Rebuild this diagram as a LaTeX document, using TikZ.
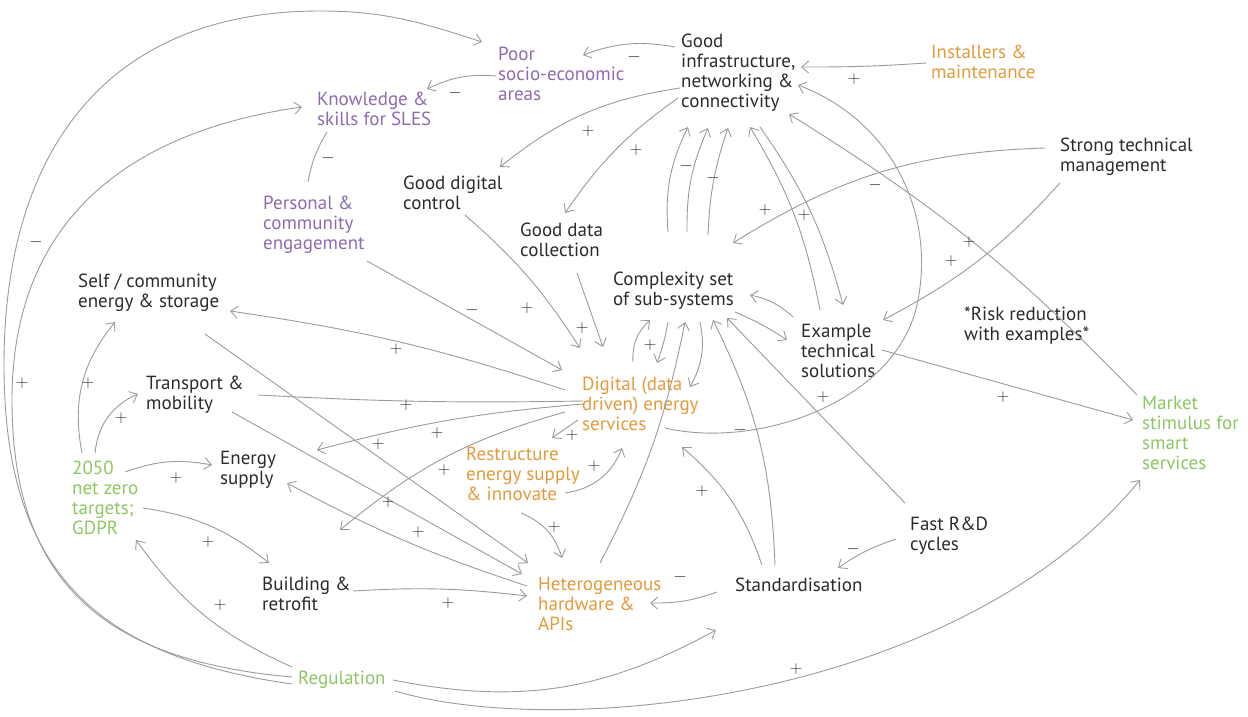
\documentclass[tikz,border=0pt]{standalone}
\usepackage{fontspec}
\setmainfont{PT Sans}
\usetikzlibrary{arrows.meta}
\definecolor{lg}{HTML}{9A9A9F}
\definecolor{tx}{HTML}{2B2B2B}
\definecolor{pu}{HTML}{8E6BB0}
\definecolor{orn}{HTML}{E39A3A}
\definecolor{gr}{HTML}{8DC662}
\begin{document}
\begin{tikzpicture}[x=1pt,y=-1pt,
  txt/.style={font=\fontsize{19}{20}\selectfont, align=left, inner sep=0pt, anchor=north west, text=tx},
  lbl/.style={font=\fontsize{17.28}{18}\selectfont, inner sep=0pt, text height=8.6pt, text depth=0pt, text=tx},
  ar/.style={draw=lg, line width=0.9pt, -{Straight Barb[length=7pt,width=12pt]}},
  ln/.style={draw=lg, line width=0.9pt}]
\useasboundingbox (0,0) rectangle (1248,717);

% nodes
\node[txt,text=pu] (poor) at (498,47) {Poor\\socio-economic\\areas};
\node[txt] (infra) at (681,34) {Good\\infrastructure,\\networking \&\\connectivity};
\node[txt,text=orn] (inst) at (931,45) {Installers \&\\maintenance};
\node[txt,text=pu] (know) at (317,92) {Knowledge \&\\skills for SLES};
\node[txt] (strong) at (1060,138) {Strong technical\\management};
\node[txt,text=pu] (pers) at (263,196) {Personal \&\\community\\engagement};
\node[txt] (gdc) at (403,176) {Good digital\\control};
\node[txt] (gdata) at (520,223) {Good data\\collection};
\node[txt] (cplx) at (613,272) {Complexity set\\of sub-systems};
\node[txt] (self) at (78,274) {Self / community\\energy \& storage};
\node[txt] (ex) at (801,324) {Example\\technical\\solutions};
\node[txt] (risk) at (964,307) {*Risk reduction\\with examples*};
\node[txt] (trans) at (146,376) {Transport \&\\mobility};
\node[txt,text=orn] (dig) at (582,377) {Digital (data\\driven) energy\\services};
\node[txt,text=gr] (mkt) at (1142,396) {Market\\stimulus for\\smart\\services};
\node[txt] (esup) at (220,451) {Energy\\supply};
\node[txt,text=orn] (restr) at (466,447) {Restructure\\energy supply\\\& innovate};
\node[txt,text=gr] (net) at (72,461) {2050\\net zero\\targets;\\GDPR};
\node[txt] (fast) at (910,517) {Fast R\&D\\cycles};
\node[txt] (bld) at (262,577) {Building \&\\retrofit};
\node[txt,text=orn] (het) at (538,577) {Heterogeneous\\hardware \&\\APIs};
\node[txt] (std) at (735,578) {Standardisation};
\node[txt,text=gr] (reg) at (298,671) {Regulation};

% connectors
\draw[ar] ([shift={(-6,13)}]infra.north west) to[bend right=15] ([shift={(85,8)}]poor.north west);
\draw[ar] ([shift={(-2,29)}]poor.north west) to[bend right=15] ([shift={(110,-3)}]know.north west);
\draw[ar] ([shift={(-5,18)}]inst.north west) to[bend left=2] ([shift={(120,33)}]infra.north west);
\draw[ar] ([shift={(-1,54)}]infra.north west) to[bend right=15] ([shift={(97,-9)}]gdc.north west);
\draw[ar] ([shift={(-3,64)}]infra.north west) to[bend right=10] ([shift={(45,-10)}]gdata.north west);
\draw[ln] ([shift={(10,40)}]know.north west) to[bend right=10] ([shift={(45,-14)}]pers.north west);
\draw[ar] ([shift={(55,-40)}]cplx.north west) to[bend left=15] ([shift={(7,93)}]infra.north west);
\draw[ar] ([shift={(74,-40)}]cplx.north west) to[bend left=12] ([shift={(27,94)}]infra.north west);
\draw[ar] ([shift={(95,-37)}]cplx.north west) to[bend left=8] ([shift={(47,94)}]infra.north west);
\draw[ar] ([shift={(19,-14)}]ex.north west) to[bend right=10] ([shift={(69,93)}]infra.north west);
\draw[ar] ([shift={(79,93)}]infra.north west) to[bend left=10] ([shift={(42,-19)}]ex.north west);
\draw[ar] ([shift={(-15,10)}]strong.north west) to[bend right=15] ([shift={(120,-29)}]cplx.north west);
\draw[ar] ([shift={(0,45)}]strong.north west) to[bend left=10] ([shift={(82,-4)}]ex.north west);
\draw[ar] ([shift={(-5,-1)}]mkt.north west) to[bend right=7] ([shift={(108,80)}]infra.north west);
\draw[ar] ([shift={(83,51)}]dig.north west) .. controls (760,450) and (900,400) .. (918,300)
   .. controls (935,210) and (890,120) .. ([shift={(117,51)}]infra.north west);
\draw[ar] ([shift={(-5,-14)}]fast.north west) -- ([shift={(114,46)}]cplx.north west);
\draw[ar] ([shift={(-14,22)}]fast.north west) to[bend right=8] ([shift={(103,-10)}]std.north west);
\draw[ar] ([shift={(40,-13)}]std.north west) to[bend right=12] ([shift={(100,48)}]cplx.north west);
\draw[ar] ([shift={(27,-13)}]std.north west) to[bend right=15] ([shift={(100,70)}]dig.north west);
\draw[ar] ([shift={(-18,14)}]std.north west) to[bend left=10] ([shift={(112,26)}]het.north west);
\draw[ar] ([shift={(62,-14)}]het.north west) to[bend right=8] ([shift={(72,50)}]cplx.north west);
\draw[ar] ([shift={(51,-15)}]dig.north west) to[bend left=25] ([shift={(37,48)}]cplx.north west);
\draw[ar] ([shift={(55,50)}]cplx.north west) to[bend left=5] ([shift={(75,-14)}]dig.north west);
\draw[ar] ([shift={(87,50)}]cplx.north west) to[bend left=20] ([shift={(108,10)}]dig.north west);
\draw[ar] ([shift={(-8,-7)}]ex.north west) to[bend right=15] ([shift={(137,23)}]cplx.north west);
\draw[ar] ([shift={(122,40)}]cplx.north west) to[bend left=5] ([shift={(-14,16)}]ex.north west);
\draw[ar] ([shift={(81,26)}]ex.north west) -- ([shift={(-9,24)}]mkt.north west);
\draw[ar] ([shift={(62,39)}]gdc.north west) to[bend left=8] ([shift={(-2,-29)}]dig.north west);
\draw[ar] ([shift={(57,50)}]gdata.north west) -- ([shift={(21,-30)}]dig.north west);
\draw[ar] ([shift={(104,65)}]pers.north west) -- ([shift={(-20,-7)}]dig.north west);
\draw[ar] ([shift={(-17,13)}]dig.north west) to[bend right=5] ([shift={(152,37)}]self.north west);
\draw[ar] ([shift={(127,60)}]self.north west) -- ([shift={(-10,-14)}]het.north west);
\draw[ln] ([shift={(112,19)}]trans.north west) to[bend right=2] ([shift={(1,24)}]dig.north west);
\draw[ar] ([shift={(86,36)}]trans.north west) -- ([shift={(-16,-3)}]het.north west);
\draw[ar] ([shift={(-11,9)}]het.north west) to[bend left=5] ([shift={(67,32)}]esup.north west);
\draw[ar] ([shift={(1,27)}]dig.north west) to[bend right=5] ([shift={(97,-1)}]esup.north west);
\draw[ar] ([shift={(-17,35)}]dig.north west) to[bend right=12] ([shift={(78,-47)}]bld.north west);
\draw[ar] ([shift={(-4,43)}]dig.north west) -- ([shift={(86,-9)}]restr.north west);
\draw[ar] ([shift={(99,46)}]restr.north west) to[bend right=30] ([shift={(40,71)}]dig.north west);
\draw[ar] ([shift={(55,66)}]restr.north west) to[bend left=25] ([shift={(24,-19)}]het.north west);
\draw[ar] ([shift={(10,-8)}]net.north west) to[bend left=25] ([shift={(37,48)}]self.north west);
\draw[ar] ([shift={(23,-8)}]net.north west) to[bend left=30] ([shift={(-8,18)}]trans.north west);
\draw[ar] ([shift={(53,11)}]net.north west) to[bend left=15] ([shift={(-8,14)}]esup.north west);
\draw[ar] ([shift={(71,47)}]net.north west) to[bend left=15] ([shift={(7,-14)}]bld.north west);
\draw[ar] ([shift={(91,14)}]bld.north west) to[bend left=5] ([shift={(-11,19)}]het.north west);
\draw[ar] ([shift={(-6,-4)}]reg.north west) to[bend left=15] ([shift={(64,79)}]net.north west);
\draw[ar] ([shift={(-6,6)}]reg.north west) to[out=175,in=-90,looseness=1.2] (12,400)
   to[out=90,in=188,looseness=1.1] ([shift={(-15,15)}]know.north west);
\draw[ar] ([shift={(-6,13)}]reg.north west) to[out=172,in=-90,looseness=1.2] (4,365)
   to[out=90,in=180,looseness=1.15] (320,11) to[out=0,in=162] ([shift={(-16,-5)}]poor.north west);
\draw[ar] ([shift={(95,9)}]reg.north west) to[bend right=20] ([shift={(-19,52)}]std.north west);
\draw[ar] ([shift={(97,20)}]reg.north west) .. controls (560,740) and (960,700) .. ([shift={(-2,84)}]mkt.north west);

% polarity labels
\node[lbl] (l1) at (634,57) {$-$};
\node[lbl] (l2) at (455,93) {$-$};
\node[lbl] (l3) at (854,79) {$+$};
\node[lbl] (l4) at (588,131) {$+$};
\node[lbl] (l5) at (636,150) {$+$};
\node[lbl] (l6) at (328,158) {$-$};
\node[lbl] (l7) at (686,166) {$-$};
\node[lbl] (l8) at (713,178) {$-$};
\node[lbl] (l9) at (875,185) {$-$};
\node[lbl] (l10) at (765,210) {$+$};
\node[lbl] (l11) at (804,215) {$+$};
\node[lbl] (l12) at (969,242) {$+$};
\node[lbl] (l13) at (951,261) {$+$};
\node[lbl] (l14) at (36,242) {$-$};
\node[lbl] (l15) at (22,383) {$+$};
\node[lbl] (l16) at (472,310) {$-$};
\node[lbl] (l17) at (527,308) {$+$};
\node[lbl] (l18) at (582,328) {$+$};
\node[lbl] (l19) at (650,345) {$+$};
\node[lbl] (l20) at (396,349) {$+$};
\node[lbl] (l21) at (88,383) {$+$};
\node[lbl] (l22) at (121,418) {$+$};
\node[lbl] (l23) at (406,405) {$+$};
\node[lbl] (l24) at (823,397) {$+$};
\node[lbl] (l25) at (1003,397) {$+$};
\node[lbl] (l26) at (740,430) {$-$};
\node[lbl] (l27) at (437,433) {$+$};
\node[lbl] (l28) at (572,435) {$+$};
\node[lbl] (l29) at (378,444) {$+$};
\node[lbl] (l30) at (594,466) {$+$};
\node[lbl] (l31) at (444,470) {$+$};
\node[lbl] (l32) at (176,478) {$+$};
\node[lbl] (l33) at (702,491) {$+$};
\node[lbl] (l34) at (388,502) {$+$};
\node[lbl] (l35) at (554,527) {$+$};
\node[lbl] (l36) at (418,532) {$+$};
\node[lbl] (l37) at (208,542) {$+$};
\node[lbl] (l38) at (853,549) {$-$};
\node[lbl] (l39) at (680,577) {$-$};
\node[lbl] (l40) at (448,603) {$+$};
\node[lbl] (l41) at (220,605) {$+$};
\node[lbl] (l42) at (796,669) {$+$};
\end{tikzpicture}
\end{document}
